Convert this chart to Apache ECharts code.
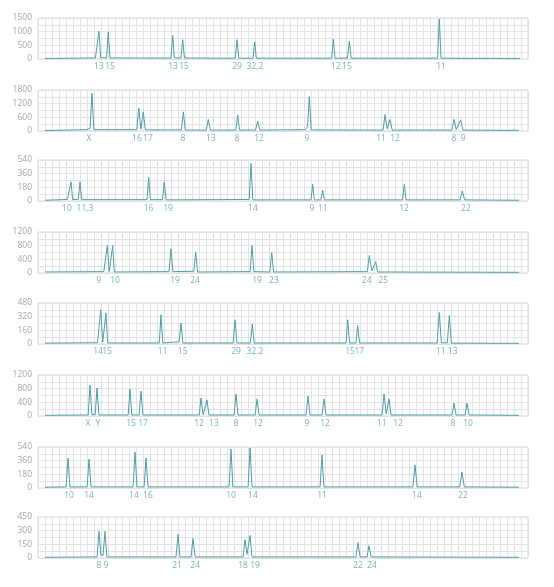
<!DOCTYPE html>
<html><head><meta charset="utf-8">
<script src="https://cdn.jsdelivr.net/npm/echarts@6/dist/echarts.min.js"></script>
<style>html,body{margin:0;padding:0;background:#fff}#c{width:554px;height:587px}</style>
</head><body><div id="c"></div>
<script>
// y-axis maxima per panel
const yMax = [1500, 1800, 540, 1200, 480, 1800/1.5, 540, 450];
// traces: [position (grid units), signal]
const trace1 = [[1.0,20],[8.2,40],[8.46,60],[8.71,1010],[8.95,50],[9.8,40],[10.04,990],[10.28,40],[19.0,35],[19.24,860],[19.48,40],[20.42,40],[20.67,705],[20.92,35],[28.18,30],[28.43,705],[28.68,30],[30.72,30],[30.96,620],[31.2,30],[41.95,30],[42.19,730],[42.43,30],[44.2,30],[44.47,645],[44.74,30],[57.08,30],[57.33,1465],[57.58,30],[68.86,20]];
const trace2 = [[1.0,20],[7.0,60],[7.45,120],[7.71,1660],[7.98,60],[14.12,60],[14.39,1010],[14.7,80],[15.04,840],[15.33,50],[20.48,50],[20.76,840],[21.04,40],[24.03,40],[24.33,505],[24.63,40],[28.25,40],[28.53,690],[28.8,40],[31.08,40],[31.39,430],[31.7,40],[38.2,60],[38.5,200],[38.76,1510],[39.03,50],[49.3,40],[49.57,720],[49.88,100],[50.29,505],[50.6,40],[59.13,40],[59.43,505],[59.75,60],[60.39,490],[60.7,40],[68.7,30]];
const trace3 = [[1.0,10],[4.2,20],[4.47,35],[4.71,252],[4.95,20],[5.76,20],[6.0,252],[6.24,18],[15.57,18],[15.81,310],[16.05,18],[17.78,18],[18.04,252],[18.3,15],[30.18,20],[30.43,496],[30.68,15],[39.0,15],[39.24,218],[39.48,15],[40.42,15],[40.67,142],[40.92,15],[52.08,15],[52.33,218],[52.58,15],[60.28,15],[60.61,133],[60.94,15],[68.7,10]];
const trace4 = [[1.0,30],[9.4,40],[9.66,80],[9.9,805],[10.18,40],[10.44,40],[10.67,805],[10.9,30],[18.72,40],[19.0,707],[19.28,40],[22.26,50],[22.53,607],[22.8,30],[30.3,40],[30.57,805],[30.84,40],[33.12,30],[33.39,590],[33.66,30],[47.05,40],[47.33,510],[47.7,60],[48.24,333],[48.5,30],[68.7,20]];
const trace5 = [[1.0,10],[8.5,15],[8.72,30],[8.96,400],[9.24,20],[9.47,20],[9.71,362],[9.95,12],[17.32,12],[17.57,342],[17.82,12],[20.16,25],[20.43,244],[20.7,12],[27.87,12],[28.14,283],[28.42,12],[30.34,12],[30.61,232],[30.88,12],[44.0,12],[44.24,283],[44.5,12],[45.42,12],[45.67,216],[45.94,12],[57.03,12],[57.33,369],[57.63,15],[58.48,15],[58.76,334],[59.06,10],[68.7,8]];
const trace6 = [[1.0,20],[7.17,30],[7.43,907],[7.7,40],[8.17,40],[8.43,820],[8.7,30],[12.88,30],[13.14,790],[13.4,30],[14.45,30],[14.71,730],[14.98,30],[23.03,30],[23.29,527],[23.6,30],[23.86,30],[24.14,470],[24.42,30],[28.02,30],[28.29,644],[28.58,30],[31.02,30],[31.29,500],[31.58,30],[38.3,30],[38.57,585],[38.85,30],[40.58,30],[40.86,500],[41.14,30],[49.16,30],[49.43,644],[49.75,60],[50.14,500],[50.44,30],[59.16,30],[59.43,380],[59.72,30],[61.02,30],[61.29,380],[61.58,30],[68.7,20]];
const trace7 = [[1.0,10],[4.02,15],[4.29,395],[4.56,15],[7.02,15],[7.29,382],[7.58,15],[13.58,15],[13.86,474],[14.14,15],[15.16,15],[15.43,395],[15.72,15],[27.3,15],[27.57,514],[27.84,15],[30.02,15],[30.29,527],[30.58,15],[40.3,15],[40.57,435],[40.84,15],[53.56,15],[53.86,303],[54.18,15],[60.25,15],[60.57,210],[60.9,15],[68.7,10]];
const trace8 = [[1.0,8],[8.44,12],[8.71,292],[8.98,30],[9.3,30],[9.57,292],[9.84,12],[19.72,12],[20.0,259],[20.28,12],[21.86,12],[22.14,214],[22.44,12],[29.3,12],[29.57,202],[29.86,40],[30.29,247],[30.58,12],[45.42,12],[45.71,169],[46.0,12],[47.0,12],[47.29,135],[47.6,12],[68.7,8]];
// peak labels: positions and texts
const lab1Pos = [8.71,10.29,19.29,20.86,28.43,31.0,42.53,44.14,57.57];
const lab1Txt = ['13','15','13','15','29','32,2','12','15','11'];
const lab2Pos = [7.29,14.14,15.71,20.71,24.71,28.43,31.57,38.43,49.0,51.0,59.43,60.71];
const lab2Txt = ['X','16','17','8','13','8','12','9','11','12','8','9'];
const lab3Pos = [4.14,6.71,15.81,18.57,30.71,39.14,40.71,52.29,61.14];
const lab3Txt = ['10','11,3','16','19','14','9','11','12','22'];
const lab4Pos = [8.67,11.0,19.57,22.43,31.29,33.71,46.96,49.33];
const lab4Txt = ['9','10','19','24','19','23','24','25'];
const lab5Pos = [8.57,9.86,17.81,20.67,28.29,31.0,44.57,45.9,57.53,59.24];
const lab5Txt = ['14','15','11','15','29','32.2','15','17','11','13'];
const lab6Pos = [7.14,8.57,13.29,15.0,23.0,25.14,28.29,31.43,38.43,41.0,49.14,51.43,59.29,61.43];
const lab6Txt = ['X','Y','15','17','12','13','8','12','9','12','11','12','8','10'];
const lab7Pos = [4.43,7.29,13.71,15.71,27.57,30.71,40.57,54.14,60.71];
const lab7Txt = ['10','14','14','16','10','14','11','14','22'];
const lab8Pos = [8.71,9.71,19.86,22.43,29.29,31.0,45.71,47.71];
const lab8Txt = ['8','9','21','24','18','19','22','24'];

const traces = [trace1,trace2,trace3,trace4,trace5,trace6,trace7,trace8];
const labPos = [lab1Pos,lab2Pos,lab3Pos,lab4Pos,lab5Pos,lab6Pos,lab7Pos,lab8Pos];
const labTxt = [lab1Txt,lab2Txt,lab3Txt,lab4Txt,lab5Txt,lab6Txt,lab7Txt,lab8Txt];
yMax[5] = 1200;

const tops = [18, 90, 160, 232, 303, 375, 447, 517];
const FONT = 'Open Sans';
const grids=[], xAxes=[], yAxes=[], series=[];
for (let i=0;i<8;i++){
  grids.push({left:38, right:26, top:tops[i], height:41, show:true, borderColor:'#d9d9d9', borderWidth:1});
  xAxes.push({type:'value', gridIndex:i, min:0, max:70, interval:1,
    axisLine:{show:false}, axisTick:{show:false}, axisLabel:{show:false},
    splitLine:{show:true, lineStyle:{color:'#e3e3e3', width:1}}});
  const M = yMax[i];
  yAxes.push({type:'value', gridIndex:i, min:0, max:M, interval:M/6,
    axisLine:{show:false}, axisTick:{show:false},
    axisLabel:{showMinLabel:true, showMaxLabel:true, color:'#a6a6a6', fontSize:8.5, fontFamily:FONT, margin:6,
      formatter:function(v){ const r = v/(M/3); return Math.abs(r-Math.round(r))<1e-6 ? String(Math.round(v)) : ''; }},
    splitLine:{show:true, lineStyle:{color:'#e3e3e3', width:1}}});
  series.push({type:'line', xAxisIndex:i, yAxisIndex:i, data:traces[i], showSymbol:false, symbol:'none',
    lineStyle:{color:'#4f9ea7', width:1}, animation:false, silent:true});
  series.push({type:'scatter', xAxisIndex:i, yAxisIndex:i, clip:false, symbolSize:0, animation:false, silent:true,
    data: labPos[i].map((x,k)=>({value:[x,0], name:labTxt[i][k]})),
    label:{show:true, position:'bottom', distance:3, formatter:'{b}', color:'#5a9ea8', fontSize:8.5, fontFamily:FONT}});
}
const chart = echarts.init(document.getElementById('c'), null, {renderer:'canvas'});
chart.setOption({animation:false, grid:grids, xAxis:xAxes, yAxis:yAxes, series:series});
</script></body></html>
